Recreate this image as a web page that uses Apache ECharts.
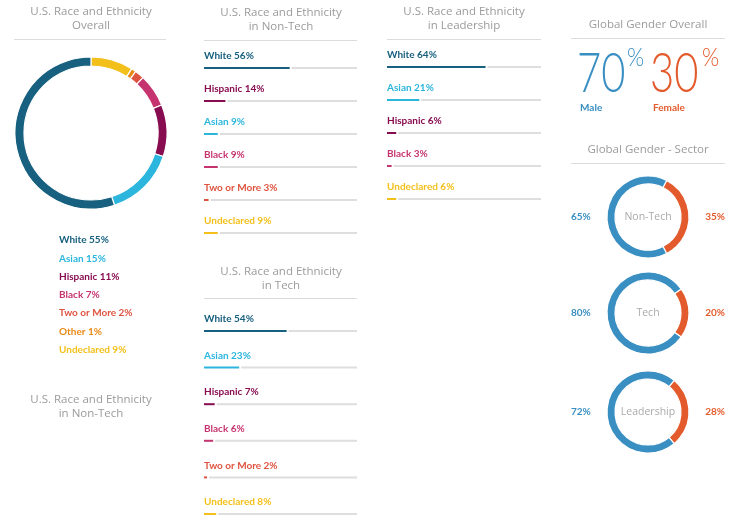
<!DOCTYPE html>
<html>
<head>
<meta charset="utf-8">
<script src="https://cdn.jsdelivr.net/npm/echarts@6/dist/echarts.min.js"></script>
<style>html,body{margin:0;padding:0;background:#fff}#c{width:736px;height:520px}</style>
</head>
<body>
<div id="c"></div>
<script>
// ---- data ----
const raceNames = ['White', 'Asian', 'Hispanic', 'Black', 'Two or More', 'Other', 'Undeclared'];
const overallValues = [55, 15, 11, 7, 2, 1, 9];
const nonTechNames = ['White', 'Hispanic', 'Asian', 'Black', 'Two or More', 'Undeclared'];
const nonTechValues = [56, 14, 9, 9, 3, 9];
const techNames = ['White', 'Asian', 'Hispanic', 'Black', 'Two or More', 'Undeclared'];
const techValues = [54, 23, 7, 6, 2, 8];
const leadNames = ['White', 'Asian', 'Hispanic', 'Black', 'Undeclared'];
const leadValues = [64, 21, 6, 3, 6];
const genderNames = ['Male', 'Female'];
const genderOverall = [70, 30];
const sectorNames = ['Non-Tech', 'Tech', 'Leadership'];
const sectorMale = [65, 80, 72];
const sectorFemale = [35, 20, 28];

// ---- styles ----
const raceColors = {
  'White': '#17607f', 'Asian': '#2cb6de', 'Hispanic': '#880d50', 'Black': '#c6346f',
  'Two or More': '#df5440', 'Other': '#ea8a16', 'Undeclared': '#f3c01b'
};
const maleColor = '#3a8fc2', femaleColor = '#e35b2c';
const FONT = '"Open Sans", sans-serif';
const headStyle = {fontFamily: FONT, fontSize: 11.5, fontWeight: 'normal', color: '#9b9b9b', lineHeight: 14};
const labelFont = 'bold 10px Lato, sans-serif';

const chart = echarts.init(document.getElementById('c'));

function barRender(names) {
  return function (params, api) {
    const cat = api.value(1), v = api.value(0);
    const name = names[cat];
    const color = raceColors[name];
    const s = api.coord([0, cat]);
    const e = api.coord([v, cat]);
    const f = api.coord([100, cat]);
    const h = 2;
    return {
      type: 'group', children: [
        {type: 'rect', shape: {x: e[0] + 2, y: s[1] - h / 2, width: f[0] - e[0] - 2, height: h}, style: {fill: '#dedede'}},
        {type: 'rect', shape: {x: s[0], y: s[1] - h / 2, width: e[0] - s[0], height: h}, style: {fill: color}},
        {type: 'text', x: s[0], y: s[1] - 12, style: {text: name + ' ' + v + '%', fill: color, font: labelFont, verticalAlign: 'middle', align: 'left'}}
      ]
    };
  };
}

const columns = [
  {names: nonTechNames, values: nonTechValues, left: 204, width: 153, top: 68, height: 165},
  {names: techNames, values: techValues, left: 204, width: 153, top: 331, height: 183},
  {names: leadNames, values: leadValues, left: 387, width: 154, top: 67, height: 132}
];

const grid = [], xAxis = [], yAxis = [], series = [];
columns.forEach((c, i) => {
  grid.push({left: c.left, width: c.width, top: c.top, height: c.height});
  xAxis.push({gridIndex: i, type: 'value', min: 0, max: 100, show: false});
  yAxis.push({gridIndex: i, type: 'category', data: c.names, inverse: true, boundaryGap: false, show: false});
  series.push({
    type: 'custom', xAxisIndex: i, yAxisIndex: i,
    data: c.values.map((v, k) => [v, k]), encode: {x: 0, y: 1},
    renderItem: barRender(c.names), silent: true, clip: false
  });
});

// overall donut: clockwise from top is reverse of legend order
const pieOrder = raceNames.map((n, i) => i).reverse();
series.push({
  type: 'pie', center: [91, 133], radius: [67, 76], startAngle: 90, clockwise: true,
  label: {show: false}, labelLine: {show: false}, silent: true,
  itemStyle: {borderColor: '#fff', borderWidth: 1.2},
  data: pieOrder.map(i => ({name: raceNames[i], value: overallValues[i], itemStyle: {color: raceColors[raceNames[i]]}}))
});

const sectorCenters = [217, 313, 412];
sectorNames.forEach((s, i) => {
  const cy = sectorCenters[i];
  series.push({
    type: 'pie', center: [648, cy], radius: [33, 41],
    startAngle: sectorFemale[i] * 1.8, clockwise: true, silent: true,
    itemStyle: {borderColor: '#fff', borderWidth: 1.2},
    label: {show: false}, labelLine: {show: false},
    data: [
      {name: genderNames[1], value: sectorFemale[i], itemStyle: {color: femaleColor}},
      {name: genderNames[0], value: sectorMale[i], itemStyle: {color: maleColor}}
    ]
  });
});

const title = [
  {text: 'U.S. Race and Ethnicity\nOverall', left: 91, top: 5},
  {text: 'U.S. Race and Ethnicity\nin Non-Tech', left: 91, top: 393},
  {text: 'U.S. Race and Ethnicity\nin Non-Tech', left: 281, top: 6},
  {text: 'U.S. Race and Ethnicity\nin Tech', left: 281, top: 265},
  {text: 'U.S. Race and Ethnicity\nin Leadership', left: 464, top: 5},
  {text: 'Global Gender Overall', left: 648, top: 18},
  {text: 'Global Gender - Sector', left: 648, top: 143}
].map(t => Object.assign({textAlign: 'center', padding: 0, textStyle: headStyle}, t));
sectorNames.forEach((s, i) => {
  title.push({text: s, left: 648, top: sectorCenters[i] - 7, textAlign: 'center', padding: 0,
    textStyle: {fontFamily: FONT, fontSize: 10.5, fontWeight: 'normal', color: '#aaaaaa', lineHeight: 14}});
});

function rule(x1, x2, y) {
  return {type: 'line', shape: {x1: x1, y1: y, x2: x2, y2: y}, style: {stroke: '#dcdcdc', lineWidth: 1}, silent: true};
}
const bigFont = '300 55px Lato, sans-serif';
const supFont = '300 26px Lato, sans-serif';
const graphic = [
  rule(14, 166, 39.5), rule(204, 357, 40.5), rule(204, 357, 298.5), rule(387, 541, 39.5),
  rule(571, 725, 38.5), rule(571, 725, 163.5),
  {type: 'text', x: 577, y: 74, scaleX: 0.76, style: {text: String(genderOverall[0]), font: bigFont, fill: maleColor, verticalAlign: 'middle'}},
  {type: 'text', x: 627, y: 58, scaleX: 0.85, style: {text: '%', font: supFont, fill: maleColor, verticalAlign: 'middle'}},
  {type: 'text', x: 650, y: 74, scaleX: 0.76, style: {text: String(genderOverall[1]), font: bigFont, fill: femaleColor, verticalAlign: 'middle'}},
  {type: 'text', x: 702, y: 58, scaleX: 0.85, style: {text: '%', font: supFont, fill: femaleColor, verticalAlign: 'middle'}},
  {type: 'text', x: 580, y: 108, style: {text: genderNames[0], font: labelFont, fill: maleColor, verticalAlign: 'middle'}},
  {type: 'text', x: 653, y: 108, style: {text: genderNames[1], font: labelFont, fill: femaleColor, verticalAlign: 'middle'}}
];
sectorNames.forEach((s, i) => {
  graphic.push({type: 'text', x: 571, y: sectorCenters[i], style: {text: sectorMale[i] + '%', font: labelFont, fill: maleColor, verticalAlign: 'middle', align: 'left'}});
  graphic.push({type: 'text', x: 725, y: sectorCenters[i], style: {text: sectorFemale[i] + '%', font: labelFont, fill: femaleColor, verticalAlign: 'middle', align: 'right'}});
});

chart.setOption({
  animation: false,
  title: title,
  legend: {
    orient: 'vertical', left: 49, top: 229, icon: 'none', itemWidth: 0, itemHeight: 12, itemGap: 7.3,
    selectedMode: false,
    data: raceNames.map(n => ({name: n, textStyle: {color: raceColors[n]}})),
    formatter: name => name + ' ' + overallValues[raceNames.indexOf(name)] + '%',
    textStyle: {fontFamily: 'Lato, sans-serif', fontSize: 10, fontWeight: 'bold'}
  },
  grid: grid, xAxis: xAxis, yAxis: yAxis, series: series, graphic: graphic
});
</script>
</body>
</html>
